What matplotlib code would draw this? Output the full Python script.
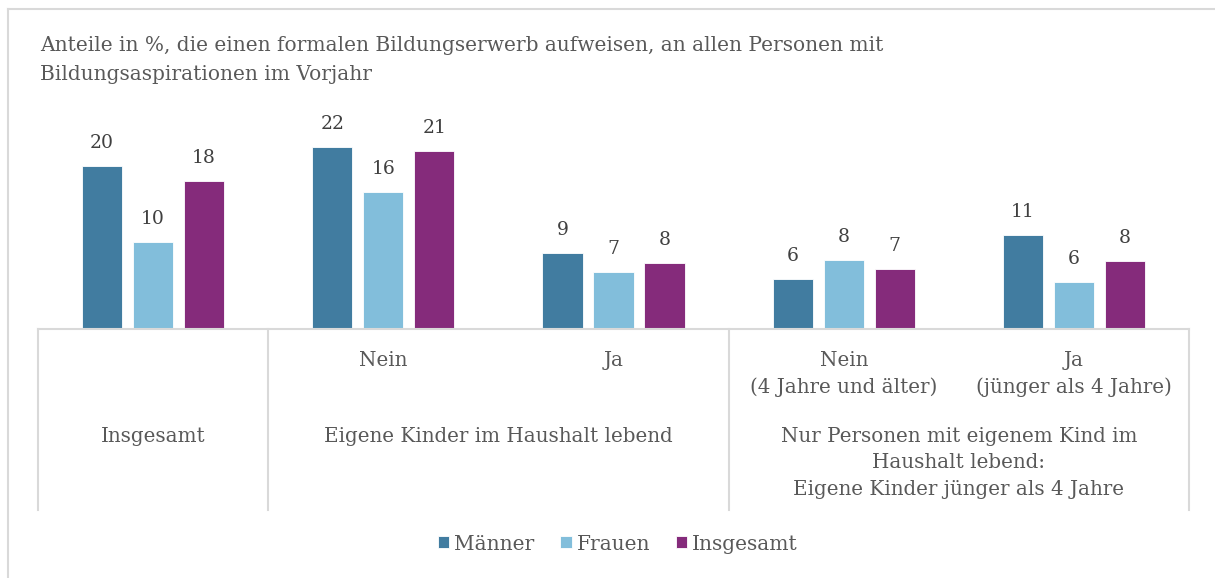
import matplotlib.pyplot as plt
from matplotlib.lines import Line2D
import numpy as np

plt.rcParams['font.family'] = ['DejaVu Serif', 'Liberation Serif']

# data
series = ['Männer', 'Frauen', 'Insgesamt']
maenner = [19.6, 21.9, 9.1, 6.0, 11.3]
frauen = [10.4, 16.4, 6.8, 8.3, 5.6]
insgesamt = [17.8, 21.4, 7.9, 7.2, 8.2]
colors = ['#417ca0', '#82bedb', '#852b7b']

sub_labels = ['', 'Nein', 'Ja', 'Nein\n(4 Jahre und älter)', 'Ja\n(jünger als 4 Jahre)']
group_labels = ['Insgesamt', 'Eigene Kinder im Haushalt lebend',
                'Nur Personen mit eigenem Kind im\nHaushalt lebend:\nEigene Kinder jünger als 4 Jahre']
group_spans = [(0, 0), (1, 2), (3, 4)]
title = ('Anteile in %, die einen formalen Bildungserwerb aufweisen, an allen Personen mit\n'
         'Bildungsaspirationen im Vorjahr')

txt = '#595959'
grid = '#d9d9d9'

fig = plt.figure(figsize=(12.15, 5.78), dpi=100)
ax = fig.add_axes([38 / 1215, 1 - 329 / 578, 1151 / 1215, 219 / 578])

x = np.arange(len(maenner))
w = 0.174
off = 0.2215
for i, (vals, c, name) in enumerate(zip([maenner, frauen, insgesamt], colors, series)):
    bars = ax.bar(x + (i - 1) * off, vals, width=w, color=c, label=name,
                  edgecolor='white', linewidth=0.6)
    for b, v in zip(bars, vals):
        ax.annotate(f'{v:.0f}', (b.get_x() + b.get_width() / 2, v),
                    xytext=(0, 10), textcoords='offset points',
                    ha='center', va='bottom', fontsize=13.5, color='#404040')

ax.set_xlim(-0.5, 4.5)
ax.set_ylim(0, 219 / 8.33)
for s in ['top', 'right', 'left']:
    ax.spines[s].set_visible(False)
ax.spines['bottom'].set_color(grid)
ax.spines['bottom'].set_linewidth(1.5)
ax.set_xticks([])
ax.set_yticks([])

# category axis separators
tr = ax.get_xaxis_transform()
y_low = (329 - 510) / 219
for xs in [-0.5, 0.5, 2.5, 4.5]:
    ax.plot([xs, xs], [0, y_low], transform=tr, color=grid, lw=1.5, clip_on=False)

for xi, lab in zip(x, sub_labels):
    if lab:
        ax.text(xi, (329 - 351) / 219, lab, transform=tr, ha='center', va='top',
                fontsize=14.3, color=txt, linespacing=1.5)
for (a, b), lab in zip(group_spans, group_labels):
    ax.text((a + b) / 2, (329 - 427) / 219, lab, transform=tr, ha='center', va='top',
            fontsize=14.3, color=txt, linespacing=1.5)

fig.text(40 / 1215, 1 - 36 / 578, title, ha='left', va='top', fontsize=14.5,
         color=txt, linespacing=1.65)

fig.legend(loc='center', bbox_to_anchor=(618 / 1215, 1 - 544 / 578), ncol=3, frameon=False,
           fontsize=14.5, handlelength=0.55, handleheight=0.55, handletextpad=0.25,
           columnspacing=1.3, labelcolor=txt)

# outer frame
fig.add_artist(Line2D([8 / 1215, 8 / 1215], [0, 1 - 9 / 578], color=grid, lw=1.5))
fig.add_artist(Line2D([8 / 1215, 1], [1 - 9 / 578, 1 - 9 / 578], color=grid, lw=1.5))

fig.savefig('out.png', dpi=100)
